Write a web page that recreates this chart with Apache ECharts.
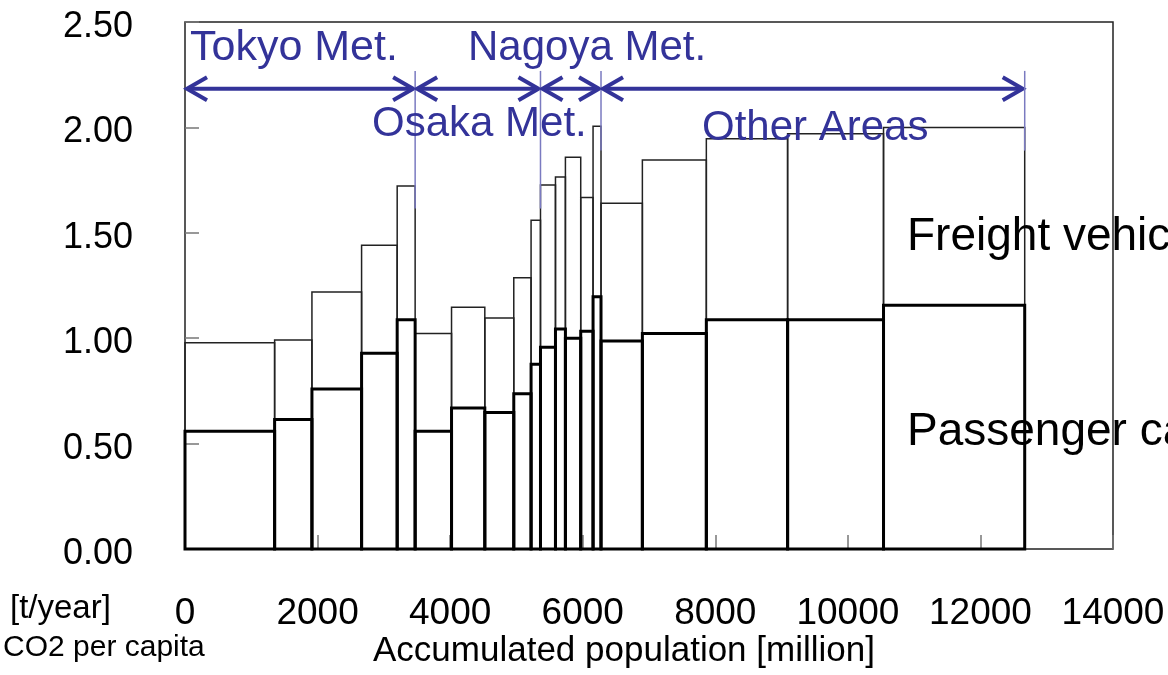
<!DOCTYPE html>
<html><head><meta charset="utf-8">
<script src="https://cdn.jsdelivr.net/npm/echarts@6/dist/echarts.min.js"></script>
<style>html,body{margin:0;padding:0;background:#fff}#c{width:1168px;height:675px}</style>
</head><body><div id="c"></div>
<script>
// ---- data ----
const populations   = [1352, 563, 749, 537, 271, 549, 502, 437, 261, 142, 226, 150, 231, 186, 120, 624, 965, 1226, 1447, 2130];
const passengerCO2  = [0.558, 0.614, 0.759, 0.929, 1.087, 0.558, 0.669, 0.648, 0.737, 0.877, 0.957, 1.044, 1.000, 1.033, 1.197, 0.987, 1.022, 1.088, 1.088, 1.156];
const freightCO2    = [0.421, 0.378, 0.460, 0.512, 0.635, 0.464, 0.478, 0.448, 0.550, 0.683, 0.770, 0.721, 0.858, 0.634, 0.809, 0.653, 0.823, 0.858, 0.882, 0.844];
const regionNames   = ['Tokyo Met.', 'Osaka Met.', 'Nagoya Met.', 'Other Areas'];
const regionBarCounts = [5, 5, 5, 5];
const xTickValues   = [0, 2000, 4000, 6000, 8000, 10000, 12000, 14000];
const yTickValues   = [0, 0.5, 1.0, 1.5, 2.0, 2.5];

// ---- build ----
const FONT = "'Liberation Sans', Arial, sans-serif";
const BLUE = '#333399';
const starts = [], ends = [];
let acc = 0;
populations.forEach(p => { starts.push(acc); acc += p; ends.push(acc); });
const totalData = populations.map((_, i) => [starts[i], ends[i], +(passengerCO2[i] + freightCO2[i]).toFixed(3)]);
const passData  = populations.map((_, i) => [starts[i], ends[i], passengerCO2[i]]);
const regions = [];
let bi = 0;
regionBarCounts.forEach((n, r) => { regions.push([starts[bi], ends[bi + n - 1], r]); bi += n; });

// annotation style levels (in axis units)
const arrowLevel = 2.183, lineTop = 2.268, lineBottoms = [1.615, 1.615, 1.89, 1.89];

function rectRender(lw, color) {
  return function (params, api) {
    const a = api.coord([api.value(0), api.value(2)]);
    const b = api.coord([api.value(1), 0]);
    return { type: 'rect', shape: { x: a[0], y: a[1], width: b[0] - a[0], height: b[1] - a[1] },
      style: { fill: 'none', stroke: color, lineWidth: lw } };
  };
}

function regionRender(params, api) {
  const r = api.value(2);
  const s = api.coord([api.value(0), arrowLevel]);
  const e = api.coord([api.value(1), arrowLevel]);
  const y = s[1];
  const x0 = s[0] + 2, x1 = e[0] - 2;
  const ls = { stroke: BLUE, lineWidth: 4, fill: 'none' };
  const top = api.coord([api.value(1), lineTop]);
  const bot = api.coord([api.value(1), lineBottoms[r]]);
  return { type: 'group', children: [
    { type: 'line', shape: { x1: x0 + 2, y1: y, x2: x1 - 2, y2: y }, style: ls },
    { type: 'polyline', shape: { points: [[x0 + 20, y - 11.5], [x0, y], [x0 + 20, y + 11.5]] }, style: ls },
    { type: 'polyline', shape: { points: [[x1 - 20, y - 11.5], [x1, y], [x1 - 20, y + 11.5]] }, style: ls },
    { type: 'line', shape: { x1: top[0], y1: top[1], x2: bot[0], y2: bot[1] }, style: { stroke: '#7a7ac0', lineWidth: 1.5 } }
  ]};
}

const chart = echarts.init(document.getElementById('c'));
const txt = (t, x, y, size, color) => ({ type: 'text', left: x, top: y - size * 0.5, z: 100,
  style: { text: t, fontSize: size, fontFamily: FONT, fill: color } });

chart.setOption({
  animation: false,
  backgroundColor: '#fff',
  textStyle: { fontFamily: FONT },
  grid: { left: 185, right: 55, top: 22, bottom: 126, show: true, borderColor: '#222', borderWidth: 1.5,
    backgroundColor: 'transparent', outerBoundsMode: 'none', containLabel: false },
  xAxis: { type: 'value', min: xTickValues[0], max: xTickValues[xTickValues.length - 1], interval: xTickValues[1] - xTickValues[0],
    axisLine: { show: false }, splitLine: { show: false },
    axisTick: { show: true, inside: true, length: 14, lineStyle: { color: '#777', width: 1.5 } },
    axisLabel: { fontSize: 37, color: '#000', margin: 46, fontFamily: FONT, formatter: v => String(v) } },
  yAxis: { type: 'value', min: yTickValues[0], max: yTickValues[yTickValues.length - 1], interval: yTickValues[1] - yTickValues[0],
    axisLine: { show: false }, splitLine: { show: false },
    axisTick: { show: true, inside: true, length: 14, lineStyle: { color: '#777', width: 1.5 } },
    axisLabel: { fontSize: 36, color: '#000', margin: 52, fontFamily: FONT, formatter: v => v.toFixed(2),
      verticalAlign: 'top', lineHeight: 10 } },
  series: [
    { type: 'custom', name: 'Total', data: totalData, renderItem: rectRender(1.5, '#222'), encode: { x: [0, 1], y: 2 }, clip: false, z: 2 },
    { type: 'custom', name: 'Passenger cars', data: passData, renderItem: rectRender(3, '#000'), encode: { x: [0, 1], y: 2 }, clip: false, z: 3 },
    { type: 'custom', name: 'Regions', data: regions, renderItem: regionRender, encode: { x: [0, 1] }, clip: false, z: 4 }
  ],
  graphic: [
    txt(regionNames[0], 190, 48, 43, BLUE),
    txt(regionNames[2], 468, 48, 42, BLUE),
    txt(regionNames[1], 372, 124, 42, BLUE),
    txt(regionNames[3], 702, 128, 42, BLUE),
    txt('Freight vehicles', 907, 237, 46, '#000'),
    txt('Passenger cars', 907, 432, 46, '#000'),
    txt('[t/year]', 10, 609, 33, '#000'),
    txt('CO2 per capita', 3, 648, 30, '#000'),
    txt('Accumulated population [million]', 373, 651, 35, '#000')
  ]
});
</script></body></html>
